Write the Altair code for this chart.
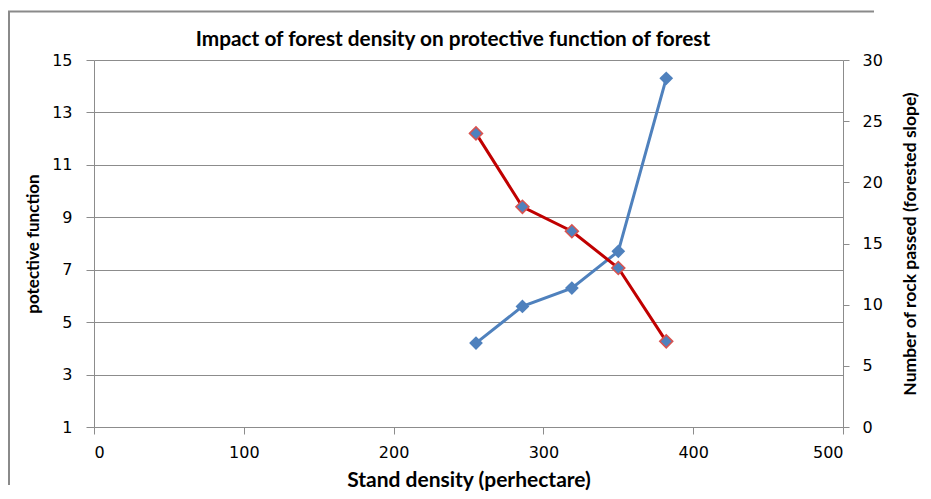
import altair as alt
import pandas as pd

# Data
density = [255, 286, 319, 350, 382]
protective = [4.2, 5.6, 6.3, 7.7, 14.3]
rocks_passed = [24, 18, 16, 13, 7]
x_ticks = [0, 100, 200, 300, 400, 500]
left_ticks = [1, 3, 5, 7, 9, 11, 13, 15]
right_ticks = [0, 5, 10, 15, 20, 25, 30]
chart_title = ["Impact of forest density on protective function of forest"]

df = pd.DataFrame({"density": density, "protective": protective, "rocks": rocks_passed})
title_df = pd.DataFrame({"title": chart_title})

BLUE = "#4F81BD"
RED = "#C00000"
RED_EDGE = "#D9534F"
GRID = "#8C8C8C"
TICKFONT = "DejaVu Sans"
TITLEFONT = "Lato"

x_enc = alt.X(
    "density:Q",
    scale=alt.Scale(domain=[0, 500], nice=False, zero=False),
    axis=alt.Axis(
        values=x_ticks, title="Stand density (perhectare)", grid=False,
        tickSize=7, labelPadding=18, labelBaseline="middle",
        titleY=53, titleBaseline="middle", titleFontSize=21,
    ),
)

y_left = alt.Y(
    "protective:Q",
    scale=alt.Scale(domain=[1, 15], nice=False, zero=False),
    axis=alt.Axis(
        values=left_ticks, title="potective function", orient="left",
        grid=True, gridColor=GRID, tickSize=8, labelPadding=14,
        titleX=-61, titleY=183.5, titleAngle=270, titleBaseline="middle",
        titleFontSize=17,
    ),
)

y_right = alt.Y(
    "rocks:Q",
    scale=alt.Scale(domain=[0, 30], nice=False, zero=False),
    axis=alt.Axis(
        values=right_ticks, title="Number of rock passed (forested slope)",
        orient="right", grid=False, tickSize=6, labelPadding=13,
        titleX=67, titleY=183.5, titleAngle=270, titleBaseline="middle",
        titleFontSize=17.5,
    ),
)

base = alt.Chart(df)

blue_line = base.mark_line(color=BLUE, strokeWidth=3).encode(x=x_enc, y=y_left)
blue_pts = base.mark_point(shape="diamond", filled=True, fill=BLUE, color=BLUE,
                           size=190, opacity=1).encode(x=x_enc, y=y_left)
red_line = base.mark_line(color=RED, strokeWidth=3).encode(x=x_enc, y=y_right)
red_pts = base.mark_point(shape="diamond", filled=True, fill=BLUE, stroke=RED_EDGE,
                          strokeWidth=1.5, size=170, opacity=1).encode(x=x_enc, y=y_right)

# Outer chart-area frame: only its left and top edges are inside the picture
frame_df = pd.DataFrame({"k": [0]})
frame_left = alt.Chart(frame_df).mark_rule(color="#8A8A8A", strokeWidth=2).encode(
    x=alt.value(-85), y=alt.value(-48.5), y2=alt.value(425)
)
frame_top = alt.Chart(frame_df).mark_rule(color="#8A8A8A", strokeWidth=2).encode(
    x=alt.value(-86), x2=alt.value(780), y=alt.value(-48.5)
)

title_mark = alt.Chart(title_df).mark_text(
    font=TITLEFONT, fontSize=20.8, fontWeight="bold", color="black",
    align="center", baseline="alphabetic",
).encode(text="title:N", x=alt.value(359), y=alt.value(-14.3))

chart = alt.layer(
    alt.layer(blue_line, blue_pts),
    alt.layer(red_line, red_pts),
    frame_left,
    frame_top,
    title_mark,
).resolve_scale(y="independent").properties(
    width=749,
    height=367,
    padding={"left": 86, "top": 52, "right": 80, "bottom": 64},
    autosize=alt.AutoSizeParams(type="none"),
).configure_view(stroke=None).configure_axis(
    domainColor=GRID, tickColor=GRID, labelFont=TICKFONT, labelFontSize=16,
    labelColor="black", titleFont=TITLEFONT, titleFontWeight="bold",
    titleColor="black", labelFontWeight="normal",
)

chart.save("out.html", embed_options={"renderer": "svg", "actions": False})
